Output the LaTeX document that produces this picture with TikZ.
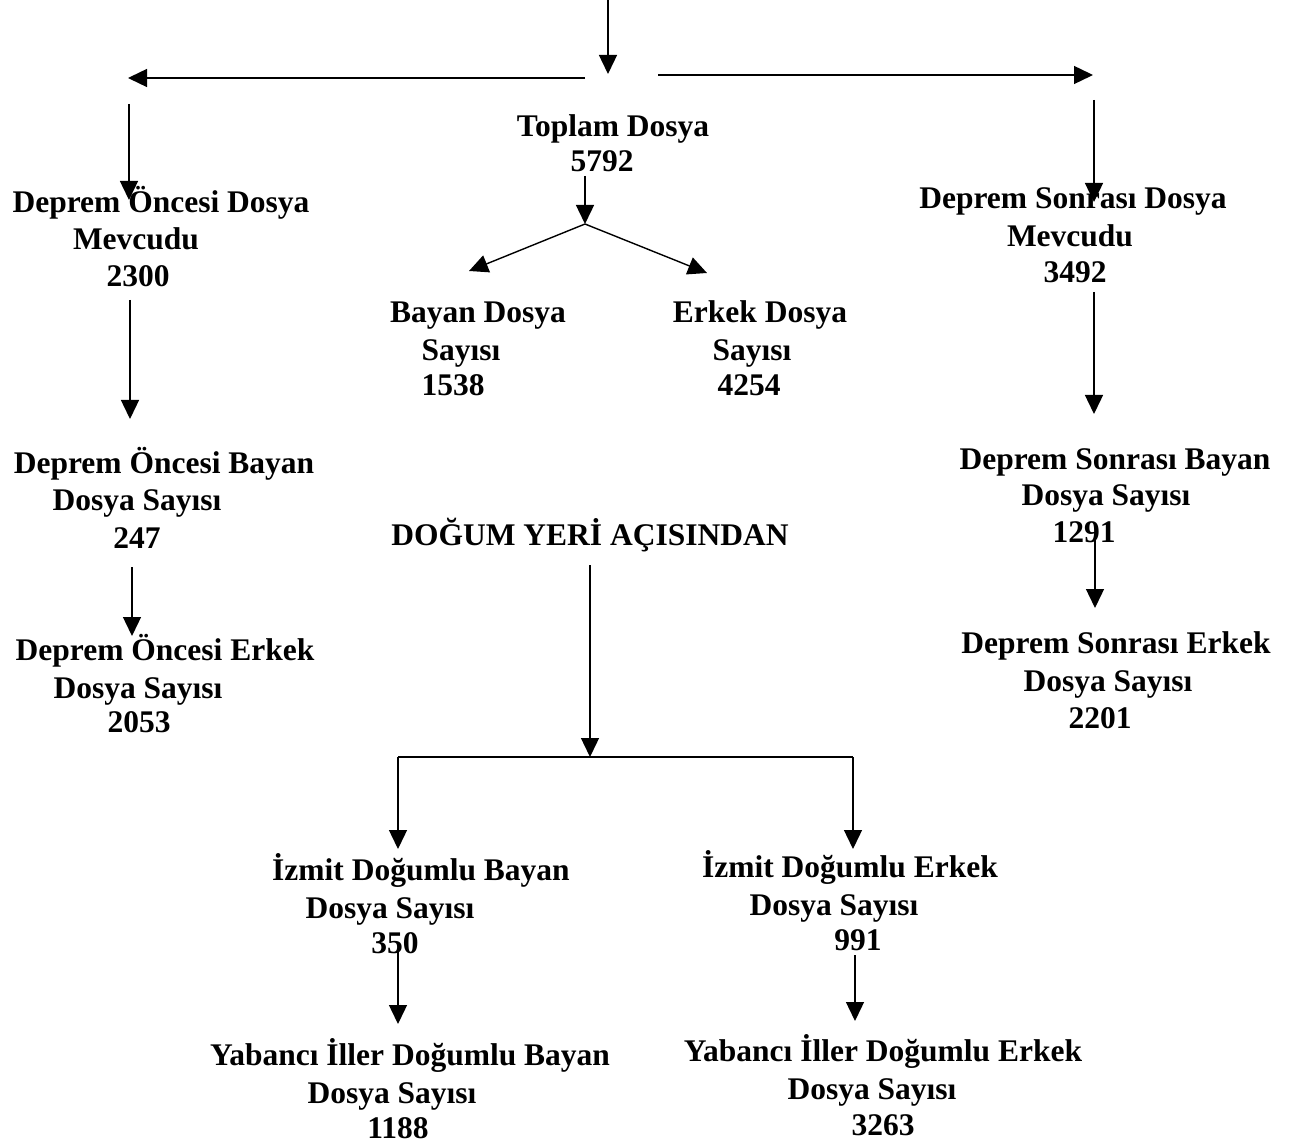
\documentclass[tikz,border=0pt]{standalone}
\usepackage{fontspec}
\setmainfont{Liberation Serif}
\usetikzlibrary{arrows.meta}
\begin{document}
\begin{tikzpicture}[x=1pt,y=-1pt,
  t/.style={font=\bfseries\fontsize{31.5}{37}\selectfont, inner sep=0pt, anchor=base},
  arr/.style={line width=1.4pt, -{Triangle[length=19pt,width=18pt]}},
  ln/.style={line width=1.4pt}]
\useasboundingbox (0,0) rectangle (1294,1147);
% texts
\node[t] (top1) at (613,137) {Toplam Dosya};
\node[t] (top2) at (602,172) {5792};
\node[t] (bd1) at (478,323) {Bayan Dosya};
\node[t] (bd2) at (461,361) {Sayısı};
\node[t] (bd3) at (453,396) {1538};
\node[t] (ed1) at (760,323) {Erkek Dosya};
\node[t] (ed2) at (752,361) {Sayısı};
\node[t] (ed3) at (749,396) {4254};
\node[t] (od1) at (161,213) {Deprem Öncesi Dosya};
\node[t] (od2) at (136,250) {Mevcudu};
\node[t] (od3) at (138,287) {2300};
\node[t] (sd1) at (1073,209) {Deprem Sonrası Dosya};
\node[t] (sd2) at (1070,247) {Mevcudu};
\node[t] (sd3) at (1075,283) {3492};
\node[t] (ob1) at (164,474) {Deprem Öncesi Bayan};
\node[t] (ob2) at (137,511) {Dosya Sayısı};
\node[t] (ob3) at (137,548) {247};
\node[t] (oe1) at (165,660) {Deprem Öncesi Erkek};
\node[t] (oe2) at (138,698) {Dosya Sayısı};
\node[t] (oe3) at (139,732) {2053};
\node[t] (sb1) at (1115,470) {Deprem Sonrası Bayan};
\node[t] (sb2) at (1106,506) {Dosya Sayısı};
\node[t] (sb3) at (1084,542) {1291};
\node[t] (se1) at (1116,653) {Deprem Sonrası Erkek};
\node[t] (se2) at (1108,691) {Dosya Sayısı};
\node[t] (se3) at (1100,728) {2201};
\node[t] (dy) at (590,545) {DOĞUM YERİ AÇISINDAN};
\node[t] (ib1) at (421,880) {İzmit Doğumlu Bayan};
\node[t] (ib2) at (390,918) {Dosya Sayısı};
\node[t] (ib3) at (395,953) {350};
\node[t] (ie1) at (850,877) {İzmit Doğumlu Erkek};
\node[t] (ie2) at (834,915) {Dosya Sayısı};
\node[t] (ie3) at (858,950) {991};
\node[t] (yb1) at (410,1065) {Yabancı İller Doğumlu Bayan};
\node[t] (yb2) at (392,1103) {Dosya Sayısı};
\node[t] (yb3) at (398,1138) {1188};
\node[t] (ye1) at (883,1061) {Yabancı İller Doğumlu Erkek};
\node[t] (ye2) at (872,1099) {Dosya Sayısı};
\node[t] (ye3) at (883,1135) {3263};
% connector coordinates
\coordinate (cTopS) at (608,0);
\coordinate (cTopE) at (608,74);
\coordinate (cLs) at (585,78);
\coordinate (cLe) at (128,78);
\coordinate (cRs) at (658,75);
\coordinate (cRe) at (1093,75);
\coordinate (cL1s) at (129,104);
\coordinate (cL1e) at (129,200);
\coordinate (cR1s) at (1094,100);
\coordinate (cR1e) at (1094,202);
\coordinate (cTs) at (585,176);
\coordinate (cTm) at (585,224);
\coordinate (cTb) at (469,271);
\coordinate (cTe) at (707,273);
\coordinate (cL2s) at (130,300);
\coordinate (cL2e) at (130,419);
\coordinate (cL3s) at (132,567);
\coordinate (cL3e) at (132,636);
\coordinate (cR2s) at (1094,292);
\coordinate (cR2e) at (1094,414);
\coordinate (cR3s) at (1095,540);
\coordinate (cR3e) at (1095,608);
\coordinate (cDs) at (590,565);
\coordinate (cDe) at (590,757);
\coordinate (cHl) at (398,757);
\coordinate (cHr) at (853,757);
\coordinate (cIbe) at (398,849);
\coordinate (cIee) at (853,849);
\coordinate (cB1s) at (398,952);
\coordinate (cB1e) at (398,1024);
\coordinate (cE1s) at (855,955);
\coordinate (cE1e) at (855,1021);
% connectors
\draw[arr] (cTopS) -- (cTopE);
\draw[arr] (cLs) -- (cLe);
\draw[arr] (cRs) -- (cRe);
\draw[arr] (cL1s) -- (cL1e);
\draw[arr] (cR1s) -- (cR1e);
\draw[arr] (cTs) -- (cTm);
\draw[arr] (cTm) -- (cTb);
\draw[arr] (cTm) -- (cTe);
\draw[arr] (cL2s) -- (cL2e);
\draw[arr] (cL3s) -- (cL3e);
\draw[arr] (cR2s) -- (cR2e);
\draw[arr] (cR3s) -- (cR3e);
\draw[arr] (cDs) -- (cDe);
\draw[ln] (cHl) -- (cHr);
\draw[arr] (cHl) -- (cIbe);
\draw[arr] (cHr) -- (cIee);
\draw[arr] (cB1s) -- (cB1e);
\draw[arr] (cE1s) -- (cE1e);
\end{tikzpicture}
\end{document}
